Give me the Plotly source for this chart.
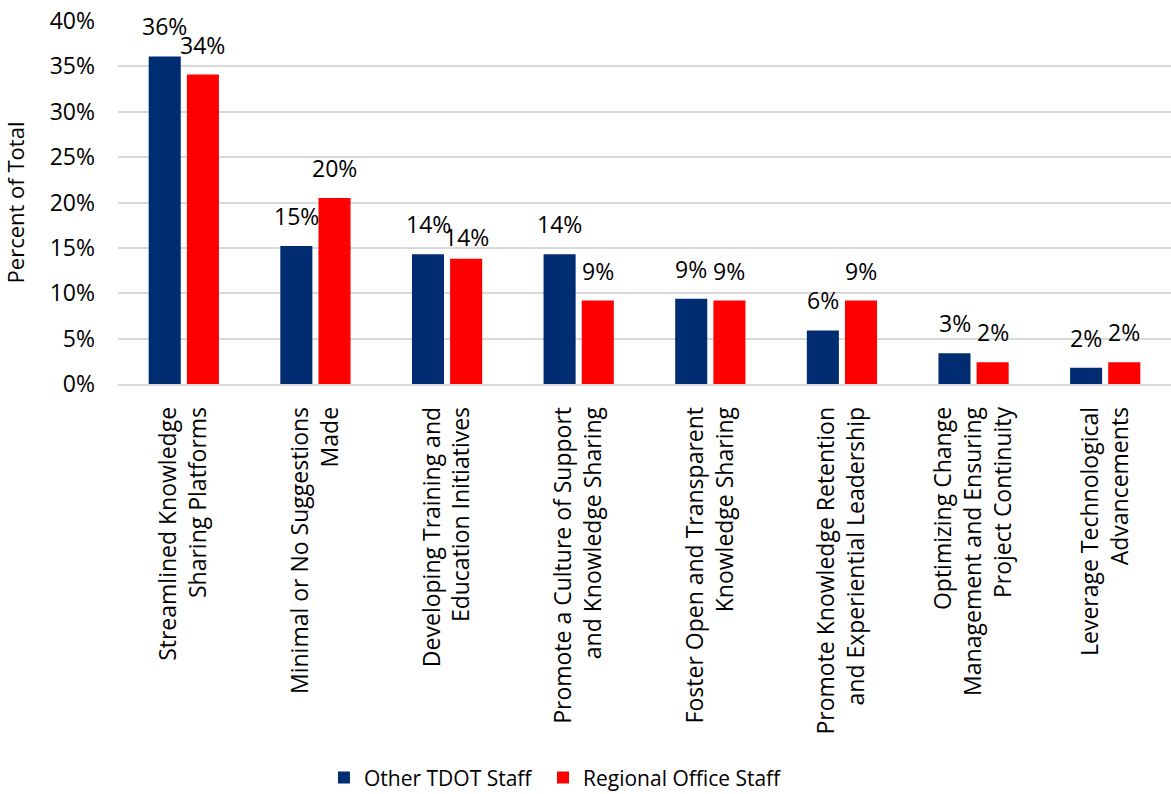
import plotly.graph_objects as go

categories = [
    "Streamlined Knowledge<br>Sharing Platforms",
    "Minimal or No Suggestions<br>Made",
    "Developing Training and<br>Education Initiatives",
    "Promote a Culture of Support<br>and Knowledge Sharing",
    "Foster Open and Transparent<br>Knowledge Sharing",
    "Promote Knowledge Retention<br>and Experiential Leadership",
    "Optimizing Change<br>Management and Ensuring<br>Project Continuity",
    "Leverage Technological<br>Advancements",
]
other_tdot = [36.1, 15.2, 14.3, 14.3, 9.4, 5.9, 3.4, 1.8]
regional_office = [34.1, 20.5, 13.8, 9.2, 9.2, 9.2, 2.4, 2.4]
y_ticks = [0, 5, 10, 15, 20, 25, 30, 35, 40]
y_tick_text = [f"{t}%" for t in y_ticks]

FONT = "Open Sans"
series = [
    ("Other TDOT Staff", other_tdot, "#002D72", "legend", -19),
    ("Regional Office Staff", regional_office, "#FF0000", "legend2", 19),
]

fig = go.Figure()
for name, vals, color, leg, dx in series:
    fig.add_trace(go.Bar(
        x=categories, y=vals, name=name, legend=leg,
        marker=dict(color=color, line=dict(width=0)),
        hovertemplate="%{y:.0f}%<extra>" + name + "</extra>",
    ))
    # value labels above each bar, nudged to sit over its own bar in the group
    for i, (cat, v) in enumerate(zip(categories, vals)):
        lift = 12
        if name == "Regional Office Staff" and i == 2:
            lift = 4  # keep the neighbouring 14% labels apart
        fig.add_annotation(
            x=cat, y=v, xref="x", yref="y",
            text=f"{v:.0f}%", showarrow=False,
            xanchor="center", yanchor="bottom",
            xshift=dx, yshift=lift,
            font=dict(family=FONT, size=23, color="#000000"),
        )

legend_style = dict(
    orientation="h", xanchor="left",
    y=-1.085, yanchor="middle",
    font=dict(family=FONT, size=21),
    bgcolor="rgba(0,0,0,0)",
)

fig.update_layout(
    width=1171, height=794,
    margin=dict(l=118, r=0, t=21, b=410, autoexpand=False),
    paper_bgcolor="white", plot_bgcolor="white",
    barmode="group", bargap=0.42, bargroupgap=0.16,
    font=dict(family=FONT, size=22, color="#000000"),
    showlegend=True,
    legend=dict(x=0.1956, **legend_style),
    legend2=dict(x=0.4036, **legend_style),
)
fig.update_yaxes(
    range=[0, 40], tickmode="array", tickvals=y_ticks, ticktext=y_tick_text,
    tickfont=dict(family=FONT, size=23),
    showgrid=True, gridcolor="#D9D9D9", gridwidth=1.5,
    zeroline=False, showline=False, automargin=False,
    ticklabelstandoff=22,
    title=dict(text="Percent of Total", font=dict(family=FONT, size=22), standoff=21),
)
fig.update_xaxes(
    tickangle=-90, showline=True, linecolor="#D9D9D9", linewidth=1.5,
    ticklabelstandoff=12, automargin=False,
    tickfont=dict(family=FONT, size=23),
)

fig.write_html("out.html")
